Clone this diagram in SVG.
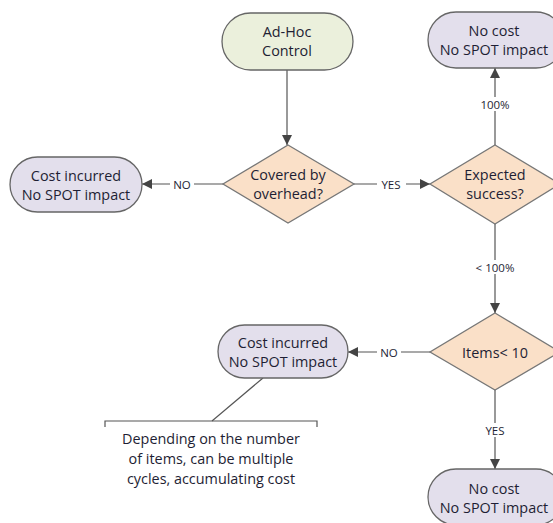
<svg xmlns="http://www.w3.org/2000/svg" width="553" height="523" viewBox="0 0 553 523">
<defs>
<style>
text{font-family:"Open Sans","Noto Sans","Liberation Sans",sans-serif;fill:#1e1e34;text-anchor:middle;dominant-baseline:central}
.t{font-size:14.4px}
.l{font-size:11.5px}
.start{fill:#ebf0dc;stroke:#666;stroke-width:1.3}
.end{fill:#e3dfec;stroke:#666;stroke-width:1.3}
.dec{fill:#fae0c8;stroke:#777;stroke-width:1.3}
.c{fill:none;stroke:#555;stroke-width:1.2}
.bg{fill:#fff}
</style>
<marker id="ah" viewBox="0 0 10 10" refX="10" refY="5" markerWidth="10" markerHeight="10" markerUnits="userSpaceOnUse" orient="auto">
<path d="M0,0 L10,5 L0,10 z" fill="#444"/>
</marker>
</defs>
<rect width="553" height="523" fill="#fff"/>
<g id="connectors">
<line class="c" x1="287" y1="70" x2="287" y2="145" marker-end="url(#ah)"/>
<line class="c" x1="223" y1="184" x2="142" y2="184" marker-end="url(#ah)"/>
<rect class="bg" x="170" y="177" width="24" height="14"/>
<text class="l" x="182" y="184">NO</text>
<line class="c" x1="354" y1="184" x2="430" y2="184" marker-end="url(#ah)"/>
<rect class="bg" x="377" y="177" width="29" height="14"/>
<text class="l" x="391" y="184">YES</text>
<line class="c" x1="495" y1="145" x2="495" y2="68" marker-end="url(#ah)"/>
<rect class="bg" x="477" y="97" width="36" height="14"/>
<text class="l" x="495" y="104">100%</text>
<line class="c" x1="495" y1="224" x2="495" y2="313" marker-end="url(#ah)"/>
<rect class="bg" x="471" y="260" width="48" height="14"/>
<text class="l" x="495" y="267">&lt; 100%</text>
<line class="c" x1="430" y1="352" x2="348" y2="352" marker-end="url(#ah)"/>
<rect class="bg" x="377" y="345" width="24" height="14"/>
<text class="l" x="389" y="352">NO</text>
<line class="c" x1="495" y1="390" x2="495" y2="469" marker-end="url(#ah)"/>
<rect class="bg" x="480" y="423" width="30" height="14"/>
<text class="l" x="495" y="430">YES</text>
<line class="c" x1="263" y1="378" x2="212" y2="421"/>
</g>
<g id="adhoc">
<rect class="start" x="222" y="13" width="131" height="57" rx="28.5"/>
<text class="t" x="287" y="31">Ad-Hoc</text>
<text class="t" x="287" y="50">Control</text>
</g>
<g id="nocost-top">
<rect class="end" x="428" y="12" width="136" height="56" rx="28"/>
<text class="t" x="494" y="30">No cost</text>
<text class="t" x="494" y="49">No SPOT impact</text>
</g>
<g id="cost-left">
<rect class="end" x="10" y="157" width="132" height="55" rx="27.5"/>
<text class="t" x="76" y="175">Cost incurred</text>
<text class="t" x="76" y="194">No SPOT impact</text>
</g>
<g id="covered">
<polygon class="dec" points="288,145 354,184 288,223 223,184"/>
<text class="t" x="288" y="174">Covered by</text>
<text class="t" x="288" y="193">overhead?</text>
</g>
<g id="expected">
<polygon class="dec" points="495,145 560,184 495,224 430,184"/>
<text class="t" x="495" y="174">Expected</text>
<text class="t" x="495" y="193">success?</text>
</g>
<g id="items">
<polygon class="dec" points="495,313 560,352 495,390 430,352"/>
<text class="t" x="495" y="352">Items&lt; 10</text>
</g>
<g id="cost-mid">
<rect class="end" x="218" y="325" width="130" height="53" rx="26.5"/>
<text class="t" x="283" y="342">Cost incurred</text>
<text class="t" x="283" y="361">No SPOT impact</text>
</g>
<g id="nocost-bottom">
<rect class="end" x="428" y="469" width="136" height="56" rx="28"/>
<text class="t" x="494" y="488">No cost</text>
<text class="t" x="494" y="507">No SPOT impact</text>
</g>
<g id="note">
<path class="c" d="M105,427 V421 H317 V427"/>
<text class="t" x="211" y="438">Depending on the number</text>
<text class="t" x="211" y="458">of items, can be multiple</text>
<text class="t" x="211" y="478">cycles, accumulating cost</text>
</g>
</svg>
